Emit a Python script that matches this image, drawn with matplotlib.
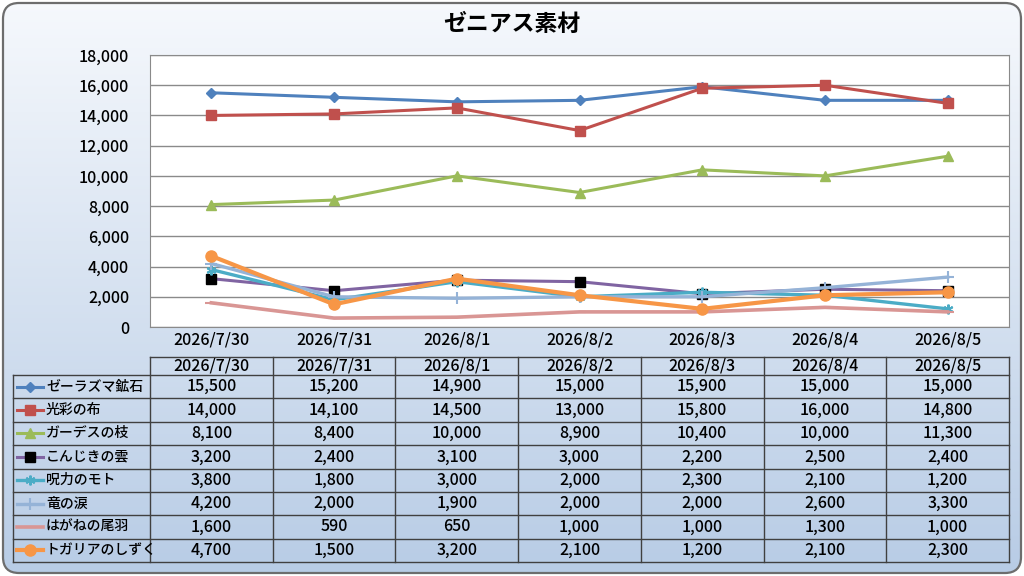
import numpy as np
import matplotlib.pyplot as plt
from matplotlib.patches import FancyBboxPatch
from matplotlib.ticker import FuncFormatter

plt.rcParams['font.family'] = ['Noto Sans CJK JP', 'DejaVu Sans']
plt.rcParams['font.weight'] = 'medium'

title = "ゼニアス素材"
dates = ["2026/7/30", "2026/7/31", "2026/8/1", "2026/8/2", "2026/8/3", "2026/8/4", "2026/8/5"]
names = ["ゼーラズマ鉱石", "光彩の布", "ガーデスの枝", "こんじきの雲",
         "呪力のモト", "竜の涙", "はがねの尾羽", "トガリアのしずく"]
zeraz = [15500, 15200, 14900, 15000, 15900, 15000, 15000]
kousai = [14000, 14100, 14500, 13000, 15800, 16000, 14800]
gades = [8100, 8400, 10000, 8900, 10400, 10000, 11300]
konjiki = [3200, 2400, 3100, 3000, 2200, 2500, 2400]
juryoku = [3800, 1800, 3000, 2000, 2300, 2100, 1200]
ryu = [4200, 2000, 1900, 2000, 2000, 2600, 3300]
hagane = [1600, 590, 650, 1000, 1000, 1300, 1000]
togaria = [4700, 1500, 3200, 2100, 1200, 2100, 2300]
values = [zeraz, kousai, gades, konjiki, juryoku, ryu, hagane, togaria]

# line colour, marker, marker size, marker face, line width
styles = [
    ("#4F81BD", "D", 5.5, "#4F81BD", 2.2),
    ("#C0504D", "s", 7, "#C0504D", 2.2),
    ("#9BBB59", "^", 7, "#9BBB59", 2.2),
    ("#8064A2", "s", 7, "black", 2.2),
    ("#4BACC6", (6, 2, 0), 7, "#4BACC6", 2.4),
    ("#95B3D7", "+", 9, "#95B3D7", 2.4),
    ("#D99694", "_", 8, "#D99694", 2.6),
    ("#F79646", "o", 8, "#F79646", 3.0),
]

W, H = 1024, 576
fig = plt.figure(figsize=(W / 100, H / 100), dpi=100)

# background with gradient and rounded border
bg = fig.add_axes([0, 0, 1, 1])
bg.set_xlim(0, W)
bg.set_ylim(H, 0)
bg.axis("off")
frame = FancyBboxPatch((3, 3), W - 6, H - 6, boxstyle="round,pad=0,rounding_size=16",
                       fc="none", ec="#6d6d6d", lw=1.6, zorder=5)
bg.add_patch(frame)
top = np.array([0.965, 0.975, 0.99])
bot = np.array([0.72, 0.80, 0.90])
t = np.linspace(0, 1, 256)[:, None, None]
grad = top + (bot - top) * t
grad = np.repeat(grad, 2, axis=1)
im = bg.imshow(grad, extent=(0, W, H, 0), aspect="auto", zorder=0)
im.set_clip_path(frame)

fig.text(0.5, 1 - 24 / H, title, ha="center", va="center", fontsize=16.5, fontweight="bold")

# plot area
px0, px1, py0, py1 = 150, 1009, 55, 327
ax = fig.add_axes([px0 / W, 1 - py1 / H, (px1 - px0) / W, (py1 - py0) / H])
x = np.arange(len(dates))
for vals, (c, m, ms, mf, lw) in zip(values, styles):
    mec = "black" if mf == "black" else c
    ax.plot(x, vals, color=c, lw=lw, marker=m, ms=ms, mfc=mf, mec=mec,
            mew=1.5 if m in ("+", "_", (6, 2, 0)) else 1)
ax.set_xlim(-0.5, len(dates) - 0.5)
ax.set_ylim(0, 18000)
ax.set_yticks(np.arange(0, 18001, 2000))
ax.yaxis.set_major_formatter(FuncFormatter(lambda v, p: f"{int(v):,}"))
ax.set_xticks(x)
ax.set_xticklabels(dates)
ax.grid(axis="y", color="#8a8a8a", lw=1)
ax.set_axisbelow(True)
ax.tick_params(length=0, labelsize=11.5, pad=3)
ax.tick_params(axis="y", pad=15)
for s in ax.spines.values():
    s.set_color("#8a8a8a")
ax.set_facecolor("white")

# data table
col_w = (px1 - px0) / len(dates)
lab_x0 = 13
head_t, head_b = 357, 375
row_h = (562 - head_b) / len(names)
tab_b = head_b + row_h * len(names)
lc = "#404040"
bg.plot([px0, px1], [head_t, head_t], color=lc, lw=1, zorder=3)
for i in range(len(names) + 1):
    yy = head_b + i * row_h
    bg.plot([lab_x0, px1], [yy, yy], color=lc, lw=1, zorder=3)
bg.plot([lab_x0, lab_x0], [head_b, tab_b], color=lc, lw=1, zorder=3)
for j in range(len(dates) + 1):
    xx = px0 + j * col_w
    bg.plot([xx, xx], [head_t, tab_b], color=lc, lw=1, zorder=3)
for j, d in enumerate(dates):
    bg.text(px0 + (j + 0.5) * col_w, (head_t + head_b) / 2, d, ha="center", va="center", fontsize=11.5)
for i, (nm, vals, (c, m, ms, mf, lw)) in enumerate(zip(names, values, styles)):
    yc = head_b + (i + 0.5) * row_h
    mec = "black" if mf == "black" else c
    bg.plot([17, 43], [yc, yc], color=c, lw=lw, zorder=4)
    bg.plot([30], [yc], marker=m, ms=ms, mfc=mf, mec=mec, color=c, zorder=4,
            mew=1.5 if m in ("+", "_", (6, 2, 0)) else 1)
    bg.text(46, yc, nm, ha="left", va="center", fontsize=10)
    for j, v in enumerate(vals):
        bg.text(px0 + (j + 0.5) * col_w, yc, f"{v:,}", ha="center", va="center", fontsize=11.5)

fig.savefig("out.png", dpi=100)
